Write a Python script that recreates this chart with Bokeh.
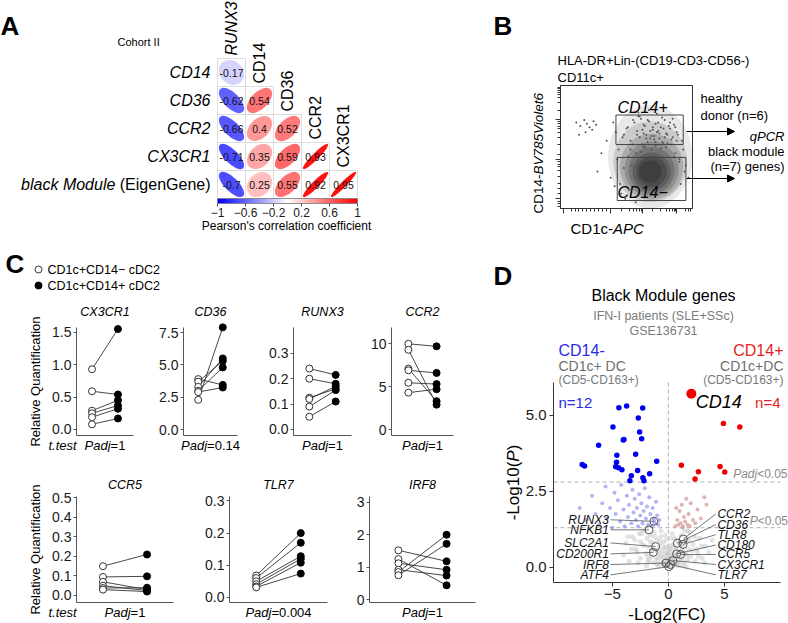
import math
import numpy as np
from bokeh.plotting import figure
from bokeh.models import (Range1d, Label, Arrow, NormalHead, FixedTicker, LinearAxis,
                          LinearColorMapper, ColumnDataSource)
from bokeh.layouts import row, column
from bokeh.embed import file_html
from bokeh.resources import INLINE
from bokeh.core.properties import value
from bokeh.transform import linear_cmap

FONT = "Liberation Sans"
W, H = 788, 623

# ======================= DATA =======================
# ---- Panel A: Pearson correlations (lower triangle) ----
corr_rows = ["CD14", "CD36", "CCR2", "CX3CR1", "black Module"]
corr_cols = ["RUNX3", "CD14", "CD36", "CCR2", "CX3CR1"]
corr_cd14 = [-0.17]
corr_cd36 = [-0.62, 0.54]
corr_ccr2 = [-0.66, 0.4, 0.52]
corr_cx3cr1 = [-0.71, 0.35, 0.59, 0.93]
corr_black = [-0.7, 0.25, 0.55, 0.92, 0.95]
cbar_ticks = [-1, -0.6, -0.2, 0.2, 0.6, 1]
cbar_labels = ["\u22121", "\u22120.6", "\u22120.2", "0.2", "0.6", "1"]

# ---- Panel B: flow cytometry (events, gates) ----
flow_x = [12, 15, 18, 20, 22, 25, 27, 14, 19, 24, 28, 31, 35, 38, 40, 43, 45, 47, 48, 50,
          52, 53, 55, 56, 58, 60, 62, 63, 65, 66, 68, 70, 72, 74, 75, 77, 79, 80, 82, 84,
          85, 87, 88, 90, 92, 94, 46, 49, 51, 54, 57, 59, 61, 64, 67, 71, 73, 76, 78, 81,
          83, 86, 89, 91, 93, 95, 97, 44, 42, 41,
          48, 51, 53, 56, 58, 60, 61, 63, 64, 66, 67, 69, 70, 71, 72, 73, 75, 76, 78, 79,
          81, 83, 85, 86, 88, 55, 59, 62, 65, 68, 74, 77, 80, 84, 87, 57, 63, 69, 72, 90]
flow_y = [70, 67, 72, 69, 66, 71, 68, 60, 62, 64, 30, 45, 55, 25, 70, 40, 20, 58, 33, 65,
          15, 48, 72, 28, 60, 75, 52, 68, 57, 72, 63, 66, 54, 70, 61, 74, 58, 50, 67, 56,
          73, 45, 62, 38, 55, 30, 12, 8, 42, 35, 5, 78, 46, 50, 80, 59, 77, 49, 65, 53,
          70, 42, 60, 20, 48, 35, 25, 48, 62, 18,
          60, 66, 55, 70, 63, 58, 73, 61, 67, 54, 71, 59, 64, 56, 69, 62, 57, 66, 53, 72,
          60, 65, 58, 68, 55, 52, 75, 64, 60, 57, 63, 54, 61, 52, 66, 45, 50, 48, 51, 40]
dens_x = [68, 68, 69, 69, 69, 69, 69, 68]
dens_y = [42, 38, 34, 32, 31, 30, 30, 30]
dens_w = [64, 56, 48, 41, 35, 29, 23, 17]
dens_h = [84, 66, 54, 45, 38, 31, 25, 18]
dens_a = [0.10, 0.14, 0.18, 0.20, 0.22, 0.25, 0.28, 0.30]
gate_names = ["CD14+", "CD14\u2212"]
gate_left = [42, 43]
gate_right = [93, 95]
gate_bottom = [52, 6.5]
gate_top = [76, 41.5]

# ---- Panel C: qPCR relative quantification (paired donors) ----
genes_c = ["CX3CR1", "CD36", "RUNX3", "CCR2", "CCR5", "TLR7", "IRF8"]
cx3cr1_neg = [0.93, 0.59, 0.29, 0.25, 0.19, 0.08]
cx3cr1_pos = [1.55, 0.54, 0.45, 0.37, 0.32, 0.17]
cd36_neg = [2.30, 3.90, 3.70, 3.30, 3.00, 2.90]
cd36_pos = [7.90, 3.45, 5.30, 5.50, 4.80, 3.25]
runx3_neg = [0.24, 0.20, 0.125, 0.12, 0.09, 0.05]
runx3_pos = [0.215, 0.18, 0.16, 0.17, 0.155, 0.11]
ccr2_neg = [10.0, 9.3, 7.1, 6.9, 5.45, 4.3]
ccr2_pos = [9.7, 2.9, 3.3, 6.6, 5.3, 4.7]
ccr5_neg = [0.15, 0.095, 0.07, 0.05, 0.038, 0.03]
ccr5_pos = [0.21, 0.098, 0.03, 0.025, 0.04, 0.02]
tlr7_neg = [0.068, 0.060, 0.050, 0.041, 0.034, 0.031]
tlr7_pos = [0.20, 0.17, 0.128, 0.12, 0.108, 0.074]
irf8_neg = [1.52, 1.25, 1.12, 0.92, 0.85, 0.75]
irf8_pos = [1.18, 0.44, 0.92, 0.74, 2.0, 1.72]
padj_c = ["1", "0.14", "1", "1", "1", "0.004", "1"]
ticks_cx3cr1 = [0, 0.5, 1, 1.5]; tl_cx3cr1 = ["0.0", "0.5", "1.0", "1.5"]
ticks_cd36 = [0, 2.5, 5, 7.5]; tl_cd36 = ["0.0", "2.5", "5.0", "7.5"]
ticks_runx3 = [0, 0.1, 0.2, 0.3]; tl_runx3 = ["0.0", "0.1", "0.2", "0.3"]
ticks_ccr2 = [0, 5, 10]; tl_ccr2 = ["0", "5", "10"]
ticks_ccr5 = [0, 0.1, 0.2, 0.3, 0.4, 0.5]; tl_ccr5 = ["0.0", "0.1", "0.2", "0.3", "0.4", "0.5"]
ticks_tlr7 = [0, 0.1, 0.2, 0.3]; tl_tlr7 = ["0.0", "0.1", "0.2", "0.3"]
ticks_irf8 = [0, 1, 2, 3]; tl_irf8 = ["0", "1", "2", "3"]
lim_cx3cr1 = (-0.093, 1.574)
lim_cd36 = (-0.46, 7.89)
lim_runx3 = (-0.024, 0.402)
lim_ccr2 = (-0.70, 11.9)
lim_ccr5 = (-0.036, 0.507)
lim_tlr7 = (-0.016, 0.314)
lim_irf8 = (-0.09, 3.18)

# ---- Panel D: volcano plot ----
blue_x = [-4.41, -3.72, -2.29, -2.68, -4.94, -2.56, -3.96, -4.02, -2.38, -6.22, -4.59, -2.92, -1.04,
          -4.62, -7.68, -7.47, -4.70, -4.44, -4.14, -2.74, -1.67, -3.30, -2.27, -3.43, -2.18]
blue_y = [5.24, 5.30, 5.23, 4.90, 4.61, 4.44, 4.20, 4.18, 4.22, 4.01, 3.68, 3.71, 3.48,
          3.45, 3.38, 3.33, 3.30, 3.27, 3.20, 3.18, 3.07, 3.01, 2.94, 2.84, 2.84]
red_x = [4.91, 6.37, 1.16, 4.61, 2.68, 5.03, 2.38]
red_y = [4.72, 4.61, 3.35, 3.31, 3.14, 3.13, 2.90]
cd14_x = [2.05]
cd14_y = [5.70]
lightblue_x = [-7.9, -7.3, -6.8, -6.5, -6.2, -5.9, -5.6, -5.5, -5.2, -5.0, -4.8, -4.7, -4.5, -4.3, -4.2,
               -4.0, -3.9, -3.7, -3.6, -3.5, -3.3, -3.2, -3.1, -3.0, -2.9, -2.8, -2.7, -2.6, -2.5, -2.4,
               -2.3, -2.2, -2.1, -2.0, -1.9, -1.8, -1.7, -1.6, -1.5, -1.4, -1.3, -1.2, -1.1, -1.0, -0.9,
               -0.8, -1.29]
lightblue_y = [1.95, 1.55, 2.35, 1.75, 1.40, 2.10, 2.65, 1.60, 1.95, 1.30, 2.45, 1.75, 2.20, 1.50, 2.70,
               1.90, 1.35, 2.35, 1.65, 2.05, 1.45, 2.55, 1.80, 2.25, 1.55, 1.95, 1.35, 2.40, 1.70, 2.10,
               1.45, 1.85, 2.60, 1.60, 2.00, 1.40, 2.30, 1.75, 1.35, 1.95, 1.60, 1.45, 2.15, 1.70, 1.40,
               1.55, 1.51]
lightred_x = [0.6, 0.8, 0.9, 1.0, 1.1, 1.2, 1.3, 1.4, 1.5, 1.6, 1.7, 1.8, 1.9, 2.0, 2.2, 2.4, 2.6, 2.9,
              3.2, 3.4, 0.7, 1.25]
lightred_y = [1.35, 1.55, 1.40, 1.85, 1.45, 2.05, 1.35, 1.65, 1.50, 2.25, 1.40, 1.75, 1.35, 2.10, 1.55,
              1.45, 1.90, 1.60, 2.30, 2.05, 1.95, 1.30]
gray_x = [-3.0, -2.8, -2.6, -2.5, -2.3, -2.2, -2.0, -1.9, -1.8, -1.7, -1.6, -1.5, -1.4, -1.3, -1.25,
          -1.1, -1.0, -0.95, -0.9, -0.8, -0.75, -0.7, -0.6, -0.55, -0.5, -0.45, -0.4, -0.35, -0.3, -0.25,
          -0.2, -0.15, -0.1, -0.05, 0.0, 0.05, 0.1, 0.15, 0.2, 0.25, 0.3, 0.35, 0.4, 0.45, 0.5,
          0.55, 0.6, 0.7, 0.75, 0.8, 0.9, 1.0, 1.05, 1.15, 1.2, 1.3, 1.4, 1.5, 1.6, 1.7,
          1.8, 1.9, 2.0, 2.2, 2.4, 2.6, 2.8, 3.0, -3.3, -3.6, 3.3, -0.65, 0.35, -1.95, 1.6,
          -4.0, -3.8, -3.5, -3.2, -2.9, -2.7, -2.4, -2.1, -1.85, -1.6,
          -1.45, -1.2, -1.05, -0.85, -0.7, -0.5, -0.35, -0.2, -0.08, 0.08,
          0.2, 0.32, 0.48, 0.62, 0.78, 0.92, 1.1, 1.25, 1.45, 1.65,
          1.85, 2.1, 2.35, 2.65, 2.95, 3.25, 3.6, 3.9, -0.6, -0.3,
          0.1, 0.45, 0.85, -1.0, 1.3, -2.5, 2.5, -1.7, 1.75, 0.0]
gray_y = [0.9, 0.5, 1.1, 0.3, 0.75, 1.2, 0.45, 0.95, 0.2, 0.65, 1.05, 0.35, 0.8, 0.15, 1.15,
          0.55, 0.9, 0.25, 0.05, 0.7, 0.4, 1.0, 0.15, 0.55, 0.3, 0.8, 0.05, 0.45, 0.2, 0.65,
          0.35, 0.1, 0.5, 0.25, 0.08, 0.4, 0.18, 0.6, 0.3, 0.05, 0.5, 0.22, 0.75, 0.12, 0.4,
          0.95, 0.25, 0.6, 0.1, 0.35, 0.8, 0.2, 0.5, 1.05, 0.3, 0.7, 0.15, 0.45, 0.9, 0.25,
          0.6, 1.15, 0.35, 0.75, 0.2, 0.5, 0.95, 0.3, 0.6, 1.0, 0.7, 1.2, 1.1, 0.05, 0.02,
          0.4, 0.8, 0.2, 1.0, 0.6, 0.15, 1.1, 0.7, 0.35, 0.85,
          0.55, 1.0, 0.3, 0.5, 0.85, 0.12, 0.65, 0.9, 0.45, 0.7,
          0.95, 0.35, 0.65, 0.45, 0.9, 0.05, 0.75, 0.55, 1.2, 0.4,
          0.9, 0.55, 1.0, 0.35, 0.7, 0.15, 0.5, 0.9, 0.35, 1.05,
          0.6, 0.3, 0.15, 0.1, 0.05, 0.85, 0.6, 0.25, 1.2, 0.3]
left_genes = ["RUNX3", "NFKB1", "SLC2A1", "CD200R1", "IRF8", "ATF4"]
left_gx = [-1.29, -1.73, -1.13, -1.34, -0.21, 0.05]
left_gy = [1.51, 1.23, 0.68, 0.49, 0.14, 0.02]
right_genes = ["CCR2", "CD36", "TLR8", "CD180", "CCR5", "CX3CR1", "TLR7"]
right_gx = [1.34, 0.80, 1.31, 0.74, 1.10, 0.41, 0.21]
right_gy = [0.93, 0.79, 0.75, 0.44, 0.42, 0.22, 0.09]
padj_threshold = 2.8
p_threshold = 1.30
vol_xlim = (-10.24, 10.0)
vol_ylim = (-0.5, 6.07)
vol_yticks = [0, 2.5, 5]; vol_ytl = ["0.0", "2.5", "5.0"]
vol_xticks = [-5, 0, 5]; vol_xtl = ["\u22125", "0", "5"]

# ======================= HELPERS =======================
AW = {' ': 278, '!': 278, '(': 333, ')': 333, '+': 584, '-': 333, '.': 278, ',': 278, "'": 191,
      '<': 584, '=': 584, '>': 584, '\u2212': 584,
      'A': 667, 'B': 667, 'C': 722, 'D': 722, 'E': 667, 'F': 611, 'G': 778, 'H': 722, 'I': 278,
      'J': 500, 'K': 667, 'L': 556, 'M': 833, 'N': 722, 'O': 778, 'P': 667, 'Q': 778, 'R': 722,
      'S': 667, 'T': 611, 'U': 722, 'V': 667, 'W': 944, 'X': 667, 'Y': 667, 'Z': 611,
      'a': 556, 'b': 556, 'c': 500, 'd': 556, 'e': 556, 'f': 278, 'g': 556, 'h': 556, 'i': 222,
      'j': 222, 'k': 500, 'l': 222, 'm': 833, 'n': 556, 'o': 556, 'p': 556, 'q': 556, 'r': 333,
      's': 500, 't': 278, 'u': 556, 'v': 500, 'w': 722, 'x': 500, 'y': 500, 'z': 500}


def tw(s, size):
    return sum(AW.get(c, 556) for c in s) * size / 1000.0


class Fr:
    """linear map between page pixels of a plot area and its data ranges"""
    def __init__(s, fx0, fy0, fx1, fy1, xr, yr):
        s.fx0, s.fy0, s.fx1, s.fy1, s.xr, s.yr = fx0, fy0, fx1, fy1, xr, yr

    def x(s, X):
        return s.xr[0] + (X - s.fx0) / (s.fx1 - s.fx0) * (s.xr[1] - s.xr[0])

    def y(s, Y):
        return s.yr[1] - (Y - s.fy0) / (s.fy1 - s.fy0) * (s.yr[1] - s.yr[0])

    def X(s, x):
        return s.fx0 + (x - s.xr[0]) / (s.xr[1] - s.xr[0]) * (s.fx1 - s.fx0)

    def Y(s, y):
        return s.fy0 + (s.yr[1] - y) / (s.yr[1] - s.yr[0]) * (s.fy1 - s.fy0)


def mkfig(box, fr):
    """figure whose frame fills the whole box; ranges extended from the plot-area mapping"""
    bx0, by0, bx1, by1 = box
    p = figure(width=int(round(bx1 - bx0)), height=int(round(by1 - by0)),
               x_range=Range1d(fr.x(bx0), fr.x(bx1)), y_range=Range1d(fr.y(by1), fr.y(by0)),
               x_axis_type=None, y_axis_type=None, tools="", toolbar_location=None,
               output_backend="svg",
               min_border_left=0, min_border_right=0, min_border_top=0, min_border_bottom=0)
    p.outline_line_color = None
    p.background_fill_color = "white"
    p.border_fill_color = "white"
    return p


def label(p, fr, X, Y, text, size, style="normal", color="black", align="left",
          baseline="middle", angle=0.0):
    p.add_layout(Label(x=fr.x(X), y=fr.y(Y), text=text, text_font=FONT,
                       text_font_size=f"{size}px", text_font_style=style, text_color=color,
                       text_align=align, text_baseline=baseline, angle=angle))


def mixed(p, fr, X, Y, pieces, size, color="black", align="left", vertical=False):
    widths = [tw(t, size) for t, _ in pieces]
    total = sum(widths)
    if not vertical:
        cur = X if align == "left" else (X - total / 2 if align == "center" else X - total)
        for (t, st), w in zip(pieces, widths):
            lead = tw(t[:len(t) - len(t.lstrip(" "))], size)
            label(p, fr, cur + lead, Y, t.strip(" "), size, st, color, "left", "middle")
            cur += w
    else:
        cur = Y if align == "left" else (Y + total / 2 if align == "center" else Y + total)
        for (t, st), w in zip(pieces, widths):
            lead = tw(t[:len(t) - len(t.lstrip(" "))], size)
            label(p, fr, X, cur - lead, t.strip(" "), size, st, color, "left", "middle",
                  math.pi / 2)
            cur -= w


def add_axis(p, side, ticks, labels, loc, bounds, size=14, color="#333", tick_out=3,
             standoff=2, minor=None, hide=False):
    ax = LinearAxis(ticker=FixedTicker(ticks=ticks, minor_ticks=minor or []),
                    fixed_location=loc, bounds=bounds)
    if labels is not None:
        ax.major_label_overrides = dict(zip(ticks, labels))
    ax.axis_line_color = color
    ax.axis_line_width = 1
    ax.major_tick_line_color = color if ticks else None
    ax.major_tick_in = 0
    ax.major_tick_out = tick_out
    if minor:
        ax.minor_tick_line_color = color
        ax.minor_tick_in = 0
        ax.minor_tick_out = 3
    else:
        ax.minor_tick_line_color = None
    ax.major_label_text_font = FONT
    ax.major_label_text_font_size = f"{size}px"
    ax.major_label_text_color = None if hide else "#1a1a1a"
    ax.major_label_standoff = standoff
    p.add_layout(ax, side)
    return ax


def ramp(n=201):
    cols = []
    for k in range(n):
        t = k / (n - 1) * 2 - 1
        if t < 0:
            f = 1 + t
            c = (int(round(255 * f)), int(round(255 * f)), 255)
        else:
            f = 1 - t
            c = (255, int(round(255 * f)), int(round(255 * f)))
        cols.append("#%02x%02x%02x" % c)
    return cols


PAL = ramp()

# ======================= PANEL A =======================
CELL = 28.0
frA = Fr(0, 0, 390, 197, ((0 - 231) / CELL, (390 - 231) / CELL),
         (4 - (197 - 72) / CELL, 4 - (0 - 72) / CELL))
pA = mkfig((0, 0, 390, 197), frA)

rows_vals = [corr_cd14, corr_cd36, corr_ccr2, corr_cx3cr1, corr_black]
cx, cy, cr, cw, ch, ca, ct = [], [], [], [], [], [], []
for j, vals in enumerate(rows_vals):
    for i, r in enumerate(vals):
        cx.append(i); cy.append(4 - j); cr.append(r)
        cw.append(0.9 * math.sqrt(1 + abs(r))); ch.append(0.9 * math.sqrt(1 - abs(r)))
        ca.append(math.pi / 4 if r > 0 else -math.pi / 4)
        ct.append(f"{r:g}")
srcA = ColumnDataSource(dict(x=cx, y=cy, r=cr, w=cw, h=ch, a=ca, t=ct))
pA.rect("x", "y", 1, 1, source=srcA, fill_color=None, line_color="#dcdcdc", line_width=1)
pA.ellipse("x", "y", width="w", height="h", angle="a", source=srcA,
           fill_color=linear_cmap("r", PAL, -1, 1), line_color=None)
pA.text("x", "y", text="t", source=srcA, text_font=value(FONT), text_font_size="10.5px",
        text_align="center", text_baseline="middle", text_color="#111111")

for j, name in enumerate(corr_rows):
    Yc = 72 + CELL * j
    if name == "black Module":
        mixed(pA, frA, 210, Yc, [("black Module", "italic"), (" (EigenGene)", "normal")], 16,
              align="right")
    else:
        label(pA, frA, 210, Yc, name, 16, "italic", align="right")
for i, name in enumerate(corr_cols):
    label(pA, frA, 231 + CELL * i, 58 + CELL * i - 3, name, 16,
          "italic" if i == 0 else "normal", align="left", baseline="middle", angle=math.pi / 2)
label(pA, frA, 117, 41, "Cohort II", 11)
label(pA, frA, 0, 25, "A", 26, "bold", baseline="alphabetic")

# colour bar
frCB = Fr(217, 198, 357, 203, (-1, 1), (0, 1))
pCB = mkfig((0, 197, 390, 245), frCB)
pCB.image(image=[np.linspace(-1, 1, 256)[None, :]], x=-1, y=0, dw=2, dh=1,
          color_mapper=LinearColorMapper(palette=PAL, low=-1, high=1))
pCB.quad(left=[-1], right=[1], bottom=[0], top=[1], fill_color=None, line_color="#777777",
         line_width=0.8)
axCB = add_axis(pCB, "below", cbar_ticks, cbar_labels, 0, (-1, 1), size=12, color="#555",
                tick_out=3, standoff=1)
axCB.axis_line_color = None
label(pCB, frCB, 286, 225, "Pearson's correlation coefficient", 12, align="center")

# ======================= PANEL B =======================
frB = Fr(560, 85, 692, 208, (0, 100), (0, 100))
pB = mkfig((390, 0, W, 245), frB)
b_y_major = [8, 40, 72]
b_y_minor = [2, 4, 6, 12, 16, 20, 26, 31, 34, 36, 38, 44, 52, 58, 62, 65, 67, 69, 70.5,
             80, 86, 90, 92.5, 94.5, 96, 97.5, 98.5]
b_x_major = [2, 38, 62, 88]
b_x_minor = [8, 11, 14, 17, 20, 23, 26, 29, 32, 35, 46, 52, 55, 57.5, 59.5, 61, 70, 76, 80,
             82.5, 84.5, 86, 87.3, 95, 97, 98.5]
add_axis(pB, "left", b_y_major, None, 0, (0, 100), color="#333", tick_out=5, minor=b_y_minor,
         hide=True)
add_axis(pB, "below", b_x_major, None, 0, (0, 100), color="#333", tick_out=5, minor=b_x_minor,
         hide=True)
pB.quad(left=[0], right=[100], bottom=[0], top=[100], fill_color=None, line_color="#333333",
        line_width=1)
pB.ellipse(dens_x, dens_y, width=dens_w, height=dens_h, fill_color="#1e1e1e",
           fill_alpha=dens_a, line_color=None)
pB.scatter(flow_x, flow_y, size=2, color="#555555", line_color=None)
pB.quad(left=gate_left, right=gate_right, bottom=gate_bottom, top=gate_top,
        fill_color=None, line_color="#444444", line_width=1)
label(pB, frB, 617, 107, gate_names[0], 16, "italic")
label(pB, frB, 617, 192, gate_names[1], 16, "italic")
for Ya in (131, 178):
    pB.add_layout(Arrow(end=NormalHead(size=7, fill_color="black", line_color="black"),
                        x_start=frB.x(686), y_start=frB.y(Ya), x_end=frB.x(734), y_end=frB.y(Ya),
                        line_color="black", line_width=1))
label(pB, frB, 700, 98, "healthy", 13)
label(pB, frB, 700, 115, "donor (n=6)", 13)
label(pB, frB, 784, 136, "qPCR", 13, "italic", align="right")
label(pB, frB, 784, 151, "black module", 13, align="right")
label(pB, frB, 784, 166, "(n=7) genes)", 13, align="right")
label(pB, frB, 557, 60, "HLA-DR+Lin-(CD19-CD3-CD56-)", 13)
label(pB, frB, 557, 77, "CD11c+", 13)
mixed(pB, frB, 538, 213, [("CD14-", "normal"), ("BV785Violet6", "italic")], 13.5,
      align="left", vertical=True)
mixed(pB, frB, 570, 228, [("CD1c-", "normal"), ("APC", "italic")], 15, align="left")
label(pB, frB, 493, 25, "B", 26, "bold", baseline="alphabetic")

# ======================= PANEL C =======================
frCH = Fr(0, 245, 480, 300, (0, 1), (0, 1))
pCH = mkfig((0, 245, 480, 300), frCH)
pCH.scatter([frCH.x(38)], [frCH.y(269)], size=7, fill_color="white", line_color="#333",
            line_width=1)
pCH.scatter([frCH.x(38)], [frCH.y(285)], size=7, fill_color="black", line_color="black")
label(pCH, frCH, 47, 269, "CD1c+CD14\u2212 cDC2", 12.5)
label(pCH, frCH, 47, 285, "CD1c+CD14+ cDC2", 12.5)
label(pCH, frCH, 5, 263, "C", 26, "bold", baseline="alphabetic")

ROW1 = dict(by0=300, by1=452, fy0=327, fy1=435, ty=311, py=445)
ROW2 = dict(by0=452, by1=H, fy0=496, fy1=602, ty=484, py=612)


def cpanel(k, neg, pos, ticks, tls, lim, box_x, frame_x, rs, first=False):
    fr = Fr(frame_x[0], rs["fy0"], frame_x[1], rs["fy1"], (0.4, 2.6), lim)
    p = mkfig((box_x[0], rs["by0"], box_x[1], rs["by1"]), fr)
    add_axis(p, "left", ticks, tls, 0.4, lim, size=14, color="#555", tick_out=3, standoff=2)
    add_axis(p, "below", [], None, lim[0], (0.4, 2.6), size=12, color="#555", hide=True)
    n = len(neg)
    src = ColumnDataSource(dict(x0=[1] * n, x1=[2] * n, y0=neg, y1=pos))
    p.segment("x0", "y0", "x1", "y1", source=src, line_color="#333333", line_width=0.9)
    p.scatter("x0", "y0", source=src, size=7, fill_color="white", line_color="#333333",
              line_width=1)
    p.scatter("x1", "y1", source=src, size=7, fill_color="black", line_color="black")
    cxm = (frame_x[0] + frame_x[1]) / 2
    label(p, fr, cxm, rs["ty"], genes_c[k], 12.5, "italic", align="center")
    mixed(p, fr, cxm, rs["py"], [("Padj", "italic"), ("=" + padj_c[k], "normal")], 13,
          align="center")
    if first:
        label(p, fr, 48, rs["py"], "t.test", 13, "italic")
        label(p, fr, 35, (rs["fy0"] + rs["fy1"]) / 2, "Relative Quantification", 13,
              align="center", angle=math.pi / 2)
    return p


c1 = cpanel(0, cx3cr1_neg, cx3cr1_pos, ticks_cx3cr1, tl_cx3cr1, lim_cx3cr1, (0, 158), (76, 133), ROW1, True)
c2 = cpanel(1, cd36_neg, cd36_pos, ticks_cd36, tl_cd36, lim_cd36, (158, 265), (183, 237), ROW1)
c3 = cpanel(2, runx3_neg, runx3_pos, ticks_runx3, tl_runx3, lim_runx3, (265, 367), (293, 351), ROW1)
c4 = cpanel(3, ccr2_neg, ccr2_pos, ticks_ccr2, tl_ccr2, lim_ccr2, (367, 480), (391, 453), ROW1)
c5 = cpanel(4, ccr5_neg, ccr5_pos, ticks_ccr5, tl_ccr5, lim_ccr5, (0, 198), (76, 173), ROW2, True)
c6 = cpanel(5, tlr7_neg, tlr7_pos, ticks_tlr7, tl_tlr7, lim_tlr7, (198, 345), (229, 327), ROW2)
c7 = cpanel(6, irf8_neg, irf8_pos, ticks_irf8, tl_irf8, lim_irf8, (345, 480), (369, 475), ROW2)

# ======================= PANEL D =======================
frD = Fr(553, 382, 780, 582, vol_xlim, vol_ylim)
pD = mkfig((480, 245, W, H), frD)
add_axis(pD, "left", vol_yticks, vol_ytl, vol_xlim[0], vol_ylim, size=15, color="#333",
         tick_out=4, standoff=3)
add_axis(pD, "below", vol_xticks, vol_xtl, vol_ylim[0], vol_xlim, size=15, color="#333",
         tick_out=4, standoff=2)
pD.segment(x0=[vol_xlim[0], vol_xlim[0], 0], y0=[padj_threshold, p_threshold, vol_ylim[0]],
           x1=[vol_xlim[1], vol_xlim[1], 0], y1=[padj_threshold, p_threshold, vol_ylim[1]],
           line_color="#b0b0b0", line_dash="4 3", line_width=1)
pD.scatter(gray_x, gray_y, size=5, fill_color="#c8c8c8", fill_alpha=0.5, line_color=None)
pD.scatter(lightblue_x, lightblue_y, size=4, fill_color="#9a9af2", fill_alpha=0.75, line_color=None)
pD.scatter(lightred_x, lightred_y, size=4, fill_color="#d6a0a0", fill_alpha=0.8, line_color=None)
pD.scatter(blue_x, blue_y, size=5.5, fill_color="#0000f0", line_color=None)
pD.scatter(red_x, red_y, size=5.5, fill_color="#f00000", line_color=None)
pD.scatter(cd14_x, cd14_y, size=10, fill_color="#f00000", line_color=None)

lx_left, lx_right = -5.3, 4.375
ly_left = [1.56, 1.23, 0.80, 0.44, 0.09, -0.25]
ly_right = [1.75, 1.40, 1.07, 0.73, 0.42, 0.09, -0.25]
pD.segment(x0=[lx_left + 0.15] * len(left_genes), y0=ly_left, x1=left_gx, y1=left_gy,
           line_color="#555555", line_width=0.8)
pD.segment(x0=[lx_right - 0.15] * len(right_genes), y0=ly_right, x1=right_gx, y1=right_gy,
           line_color="#555555", line_width=0.8)
pD.scatter(left_gx + right_gx, left_gy + right_gy, size=8, fill_color=None, line_color="#555555",
           line_width=1)
pD.text(x=[lx_left] * len(left_genes), y=ly_left, text=left_genes, text_font=value(FONT),
        text_font_size="12px", text_font_style="italic", text_align="right",
        text_baseline="middle", text_color="#111111")
pD.text(x=[lx_right] * len(right_genes), y=ly_right, text=right_genes, text_font=value(FONT),
        text_font_size="12px", text_font_style="italic", text_align="left",
        text_baseline="middle", text_color="#111111")

label(pD, frD, 493, 275, "D", 26, "bold", baseline="alphabetic")
label(pD, frD, 663, 295, "Black Module genes", 16, align="center")
label(pD, frD, 663, 315, "IFN-I patients (SLE+SSc)", 12.5, color="#7a7a7a", align="center")
label(pD, frD, 663, 330, "GSE136731", 12.5, color="#7a7a7a", align="center")
label(pD, frD, 558, 350, "CD14-", 16, color="#2a2ae6")
label(pD, frD, 558, 365, "CD1c+ DC", 14, color="#6e6e6e")
label(pD, frD, 558, 379, "(CD5-CD163+)", 12, color="#7a7a7a")
label(pD, frD, 783, 350, "CD14+", 16, color="#e61e1e", align="right")
label(pD, frD, 783, 365, "CD1c+DC", 14, color="#6e6e6e", align="right")
label(pD, frD, 783, 379, "(CD5-CD163+)", 12, color="#7a7a7a", align="right")
label(pD, frD, frD.X(-9.8), frD.Y(5.42), "n=12", 15, color="#2a2ae6")
label(pD, frD, 780, frD.Y(5.42), "n=4", 15, color="#e61e1e", align="right")
label(pD, frD, frD.X(2.44), frD.Y(5.42), "CD14", 18, "italic")
mixed(pD, frD, 787, frD.Y(padj_threshold + 0.27), [("Padj", "italic"), ("<0.05", "normal")],
      12, color="#8a8a8a", align="right")
mixed(pD, frD, 787.5, frD.Y(p_threshold + 0.22), [("P", "italic"), ("<0.05", "normal")],
      12, color="#8a8a8a", align="right")
mixed(pD, frD, 513, (frD.fy0 + frD.fy1) / 2, [("-Log10(", "normal"), ("P", "italic"), (")", "normal")],
      17, align="center", vertical=True)
label(pD, frD, (frD.fx0 + frD.fx1) / 2, 614, "-Log2(FC)", 17, align="center")

# ======================= LAYOUT =======================
top = row(column(pA, pCB), pB)
rowc1 = row(c1, c2, c3, c4)
rowc2 = row(c5, c6, c7)
bottom = row(column(pCH, rowc1, rowc2), pD)
layout = column(top, bottom)

open("out.html", "w").write(file_html(layout, INLINE, title="Figure"))
